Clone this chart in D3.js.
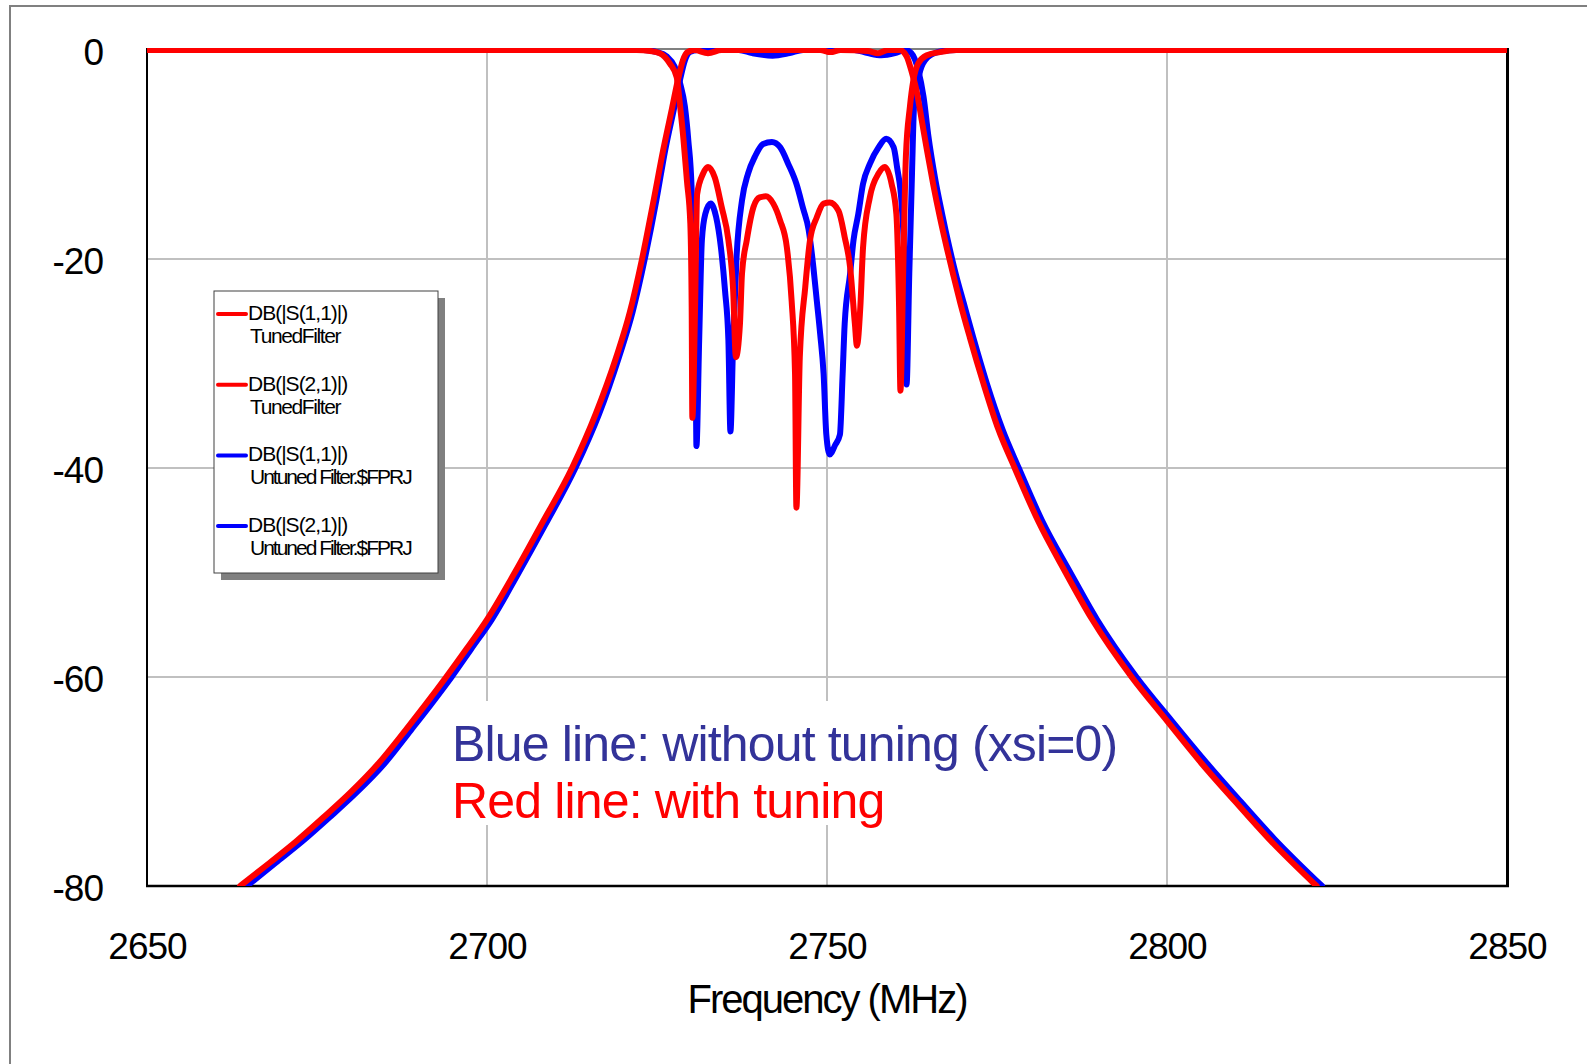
<!DOCTYPE html>
<html>
<head>
<meta charset="utf-8">
<script src="https://cdn.jsdelivr.net/npm/d3@7"></script>
<style>
  body { margin: 0; background: #fff; }
  svg { display: block; font-family: "Liberation Sans", Arial, sans-serif; }
</style>
</head>
<body>
<script>
// axis ticks
const freqTicks = [2650, 2700, 2750, 2800, 2850];
const dbTicks = [0, -20, -40, -60, -80];

// curves: [MHz, dB]
const tunedS11 = [[2650,0],[2722,0],[2724,-0.1],[2725.4,-0.3],[2726.9,-1.3],[2727.9,-2.6],[2728.4,-5.4],[2728.9,-8.6],[2729.4,-12.5],[2729.9,-16.6],[2730.1,-24.6],[2730.2,-35.2],[2730.6,-24.6],[2730.9,-13.8],[2731.8,-11.8],[2732.5,-11.2],[2733.5,-12.2],[2734.5,-15],[2735.5,-18.2],[2736.2,-23],[2736.6,-29.4],[2737.2,-26.2],[2737.5,-21.4],[2738.2,-18.2],[2739.2,-15],[2740.1,-14.1],[2741,-14],[2742.1,-14.7],[2743.1,-16.3],[2744.1,-18.9],[2744.8,-24],[2745.3,-31],[2745.5,-43.8],[2746,-29.4],[2746.8,-22.7],[2747.5,-18.2],[2748.5,-16],[2749.5,-14.7],[2750.4,-14.6],[2751.7,-15.4],[2752.6,-17.9],[2753.4,-20.8],[2754.1,-26.2],[2754.4,-28.3],[2754.9,-24.6],[2755.3,-18.9],[2756.3,-14.1],[2757.6,-11.8],[2758.5,-11.2],[2759.5,-12.8],[2760.2,-15.7],[2760.6,-24.6],[2760.8,-32.6],[2761.2,-21.4],[2761.6,-10.2],[2762.2,-5.4],[2762.7,-2.9],[2763.4,-1.3],[2764.7,-0.5],[2766.6,-0.2],[2769,0],[2850,0]];

const tunedS21 = [[2663.7,-80],[2668,-77.8],[2672,-75.7],[2676,-73.4],[2680,-71],[2684,-68.3],[2688,-65.1],[2691,-62.6],[2694,-60],[2697,-57.3],[2700,-54.5],[2704,-50.1],[2708,-45.4],[2712.5,-40],[2716,-34.8],[2719,-29.4],[2721,-25.1],[2722.8,-20],[2724.5,-14.4],[2725.9,-9.6],[2727.2,-5.6],[2728.1,-2.8],[2728.8,-1],[2729.5,-0.2],[2730.5,0],[2732.5,-0.3],[2734.5,0],[2749,0],[2750.5,-0.2],[2752,0],[2756,-0.1],[2757.5,-0.3],[2759,0],[2760.7,0],[2761.7,-0.6],[2762.5,-2.2],[2763.2,-4],[2763.9,-6.6],[2764.7,-9.6],[2765.6,-12.8],[2766.6,-16],[2767.6,-18.9],[2768.6,-21.6],[2769.6,-24.2],[2771,-27.5],[2773,-31.9],[2775.2,-36.3],[2777.6,-40],[2781,-45],[2785,-49.9],[2789,-54.5],[2794.8,-60],[2800,-64.2],[2805,-68.2],[2810,-71.9],[2815,-75.5],[2822,-80]];

const untunedS11 = [[2650,0],[2723,0],[2725,-0.2],[2726.4,-0.6],[2727.6,-1.6],[2728.4,-3.2],[2729.1,-5.4],[2729.6,-8.6],[2730.1,-13.4],[2730.4,-21.4],[2730.7,-31],[2730.8,-37.9],[2731.2,-27.8],[2731.6,-18.2],[2732.1,-15.7],[2732.9,-14.7],[2733.7,-16],[2734.4,-18.9],[2735,-23],[2735.5,-27.8],[2735.8,-36.5],[2736.2,-27.8],[2736.7,-19.8],[2737.5,-14.4],[2738.4,-11.8],[2739.4,-10.2],[2740.6,-9],[2741.9,-8.8],[2743.1,-9.3],[2744.3,-10.9],[2745.5,-12.8],[2746.5,-15.2],[2747.3,-17.2],[2748,-20.8],[2748.5,-24],[2749,-27.2],[2749.5,-31],[2749.9,-36.8],[2750.4,-38.7],[2751.2,-37.8],[2751.9,-36.8],[2752.3,-31],[2752.6,-26.2],[2753.4,-21.4],[2753.9,-18.2],[2754.6,-15.7],[2755.3,-12.8],[2756.3,-10.9],[2757.6,-9.3],[2758.7,-8.5],[2759.8,-9.3],[2760.3,-11.2],[2761,-15],[2761.5,-23],[2761.7,-32],[2762.1,-21.4],[2762.5,-11.8],[2762.8,-5.4],[2763.3,-3.2],[2763.9,-1.6],[2765.2,-0.5],[2767.1,-0.1],[2769,0],[2850,0]];

const untunedS21 = [[2664.7,-80],[2668.9,-77.8],[2672.9,-75.7],[2676.9,-73.4],[2680.9,-71],[2684.9,-68.3],[2688.8,-65.1],[2691.8,-62.6],[2694.8,-60],[2697.7,-57.3],[2700.7,-54.5],[2704.6,-50.1],[2708.6,-45.4],[2713,-40],[2716.5,-34.8],[2719.4,-29.4],[2721.4,-25.1],[2723.2,-20],[2724.9,-14.4],[2726.2,-9.6],[2727.5,-5.6],[2728.4,-2.8],[2729.1,-1],[2729.8,-0.2],[2731,0],[2737,0],[2739,-0.3],[2742,-0.55],[2744.5,-0.3],[2746.5,0],[2754,0],[2756,-0.3],[2758,-0.5],[2760,-0.3],[2761.5,0],[2762.4,-0.3],[2763.4,-1.9],[2764.2,-4.5],[2764.9,-8.2],[2765.9,-12.3],[2766.9,-15.6],[2768,-18.9],[2769,-21.6],[2770.1,-24.2],[2771.5,-27.5],[2773.5,-31.9],[2775.8,-36.3],[2778.2,-40],[2781.6,-45],[2785.7,-49.9],[2789.7,-54.5],[2795.5,-60],[2800.7,-64.2],[2805.8,-68.2],[2810.8,-71.9],[2815.8,-75.5],[2822.8,-80]];

const legendNames = ["DB(|S(1,1)|)", "DB(|S(2,1)|)", "DB(|S(1,1)|)", "DB(|S(2,1)|)"];
const legendSources = ["TunedFilter", "TunedFilter", "Untuned Filter.$FPRJ", "Untuned Filter.$FPRJ"];
const notes = ["Blue line: without tuning (xsi=0)", "Red line: with tuning"];

const RED = "#ff0000", BLUE = "#0000ff";

let W = 1587, H = 1064;
let margin = {left: 147, right: 80, top: 50, bottom: 178};

let svg = d3.select("body").append("svg")
    .attr("width", W)
    .attr("height", H);

// outer frame (only top and left visible)
svg.append("path")
    .attr("d", "M10," + H + " V6 H" + W)
    .attr("fill", "none")
    .attr("stroke", "#808080")
    .attr("stroke-width", 2);

let x = d3.scaleLinear().domain([2650, 2850]).range([margin.left, W - margin.right]);
let y = d3.scaleLinear().domain([-80, 0]).range([H - margin.bottom, margin.top]);

let x0 = x.range()[0], x1 = x.range()[1], yTop = y(0), yBot = y(-80);

// gridlines
svg.append("g")
    .selectAll("line.v")
    .data(freqTicks.slice(1, -1))
    .enter().append("line")
    .attr("x1", d => x(d)).attr("x2", d => x(d))
    .attr("y1", yTop).attr("y2", yBot)
    .attr("stroke", "#c0c0c0").attr("stroke-width", 2);
svg.append("g")
    .selectAll("line.h")
    .data(dbTicks.slice(1, -1))
    .enter().append("line")
    .attr("x1", x0).attr("x2", x1)
    .attr("y1", d => y(d)).attr("y2", d => y(d))
    .attr("stroke", "#c0c0c0").attr("stroke-width", 2);

// white box behind the notes hides the gridlines there
svg.append("rect")
    .attr("x", 446).attr("y", 701)
    .attr("width", 672).attr("height", 124)
    .attr("fill", "#fff");

// plot frame
svg.append("line").attr("x1", x0).attr("x2", x1).attr("y1", yTop - 1).attr("y2", yTop - 1)
    .attr("stroke", "#808080").attr("stroke-width", 2);
svg.append("line").attr("x1", x0).attr("x2", x0).attr("y1", yTop - 2).attr("y2", yBot + 1)
    .attr("stroke", "#000").attr("stroke-width", 2);
svg.append("line").attr("x1", x0 - 1).attr("x2", x1 + 2).attr("y1", yBot).attr("y2", yBot)
    .attr("stroke", "#000").attr("stroke-width", 2.5);
svg.append("line").attr("x1", x1 + 0.5).attr("x2", x1 + 0.5).attr("y1", yTop - 2).attr("y2", yBot + 1)
    .attr("stroke", "#000").attr("stroke-width", 3);

// curves
svg.append("clipPath").attr("id", "plotclip")
  .append("rect")
    .attr("x", x0).attr("y", yTop - 2)
    .attr("width", x1 - x0).attr("height", yBot - yTop + 2);

let line = d3.line()
    .x(d => x(d[0]))
    .y(d => y(d[1]))
    .curve(d3.curveMonotoneX);

let curves = svg.append("g").attr("clip-path", "url(#plotclip)");
[[untunedS21, BLUE], [untunedS11, BLUE], [tunedS21, RED], [tunedS11, RED]].forEach(c => {
    curves.append("path")
        .datum(c[0])
        .attr("d", line)
        .attr("fill", "none")
        .attr("stroke", c[1])
        .attr("stroke-width", 6)
        .attr("stroke-linejoin", "round")
        .attr("stroke-linecap", "round");
});

// axes
let yAxis = d3.axisLeft(y).tickValues(dbTicks).tickSize(0).tickPadding(44).tickFormat(d => String(d));
let gy = svg.append("g").attr("transform", "translate(" + x0 + ",0)").call(yAxis);
gy.select(".domain").remove();
gy.selectAll("text")
    .attr("dy", "0.38em")
    .style("font-size", "37px")
    .style("letter-spacing", "-1px")
    .attr("fill", "#000");

let xAxis = d3.axisBottom(x).tickValues(freqTicks).tickSize(0).tickPadding(47).tickFormat(d => String(d));
let gx = svg.append("g").attr("transform", "translate(0," + yBot + ")").call(xAxis);
gx.select(".domain").remove();
gx.selectAll("text")
    .style("font-size", "37px")
    .style("letter-spacing", "-1px")
    .attr("fill", "#000");

svg.append("text")
    .attr("x", (x0 + x1) / 2)
    .attr("y", 1013)
    .attr("text-anchor", "middle")
    .style("font-size", "40px")
    .style("letter-spacing", "-2px")
    .text("Frequency (MHz)");

// legend
let lg = svg.append("g");
lg.append("rect").attr("x", 221).attr("y", 298).attr("width", 224).attr("height", 282).attr("fill", "#808080");
lg.append("rect").attr("x", 214).attr("y", 291).attr("width", 224).attr("height", 282)
    .attr("fill", "#fff").attr("stroke", "#404040").attr("stroke-width", 1);

legendNames.forEach((name, i) => {
    let ly = 314 + i * 70.7;
    let tuned = legendSources[i] === "TunedFilter";
    lg.append("line")
        .attr("x1", 218).attr("x2", 246)
        .attr("y1", ly).attr("y2", ly)
        .attr("stroke", tuned ? RED : BLUE).attr("stroke-width", 4)
        .attr("stroke-linecap", "round");
    lg.append("text")
        .attr("x", 248).attr("y", ly + 6)
        .style("font-size", "21px")
        .style("letter-spacing", "-1px")
        .text(name);
    lg.append("text")
        .attr("x", 250).attr("y", ly + 29)
        .style("font-size", "21px")
        .style("letter-spacing", tuned ? "-1.4px" : "-2px")
        .text(legendSources[i]);
});

// notes
svg.append("text")
    .attr("x", 452).attr("y", 761)
    .style("font-size", "50px")
    .style("letter-spacing", "-0.85px")
    .attr("fill", "#333399")
    .text(notes[0]);
svg.append("text")
    .attr("x", 452).attr("y", 818)
    .style("font-size", "50px")
    .style("letter-spacing", "-0.85px")
    .attr("fill", RED)
    .text(notes[1]);
</script>
</body>
</html>
